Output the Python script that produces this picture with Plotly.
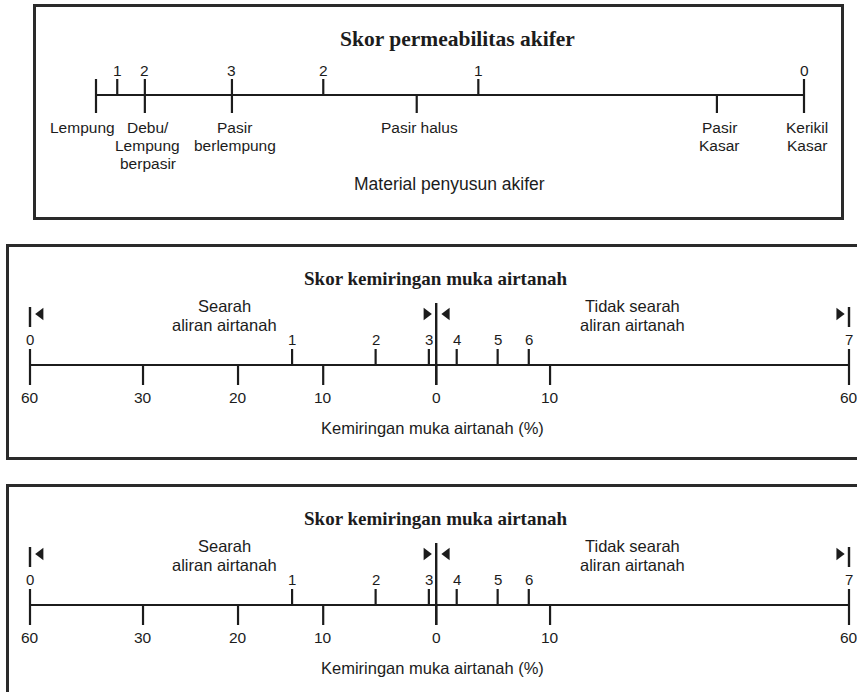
import plotly.graph_objects as go

W, H = 857, 692

# ---------------- Data: permeability panel ----------------
perm_title = "Skor permeabilitas akifer"
perm_axis_title = "Material penyusun akifer"
perm_materials = ["Lempung", "Debu/<br>Lempung<br>berpasir", "Pasir<br>berlempung",
                  "Pasir halus", "Pasir<br>Kasar", "Kerikil<br>Kasar"]
perm_material_pos = [0, 6.9, 19.2, 45.3, 87.7, 100]       # position along scale (0-100)
perm_scores = ["1", "2", "3", "2", "1", "0"]
perm_score_pos = [3.0, 6.9, 19.2, 32.1, 54.0, 100]

# ---------------- Data: slope panels ----------------
slope_title = "Skor kemiringan muka airtanah"
slope_axis_title = "Kemiringan muka airtanah (%)"
slope_pct_labels = ["60", "30", "20", "10", "0", "10", "60"]
slope_pct_pos = [0, 13.8, 25.4, 35.8, 49.6, 63.5, 100]
slope_scores = ["0", "1", "2", "3", "4", "5", "6", "7"]
slope_score_pos = [0, 32.0, 42.2, 48.7, 52.1, 57.1, 60.9, 100]
flow_labels = ["Searah<br>aliran airtanah", "Tidak searah<br>aliran airtanah"]
flow_label_pos = [23.8, 73.6]
flow_boundary_pos = [0, 49.6, 100]
arrow_pos = [1.3, 48.4, 50.9, 98.8]
arrow_dir = ["left", "right", "left", "right"]

# ---------------- Styling ----------------
INK = "#1c1c1c"
BOX = "#2a2a2a"
SANS = "Liberation Sans, Arial, sans-serif"
SERIF = "Liberation Serif, Times New Roman, serif"
LW = 2.2

fig = go.Figure()
annotations = []


def segs(xs, y0, y1):
    X, Y = [], []
    for x in xs:
        X += [x, x, None]
        Y += [y0, y1, None]
    return X, Y


def add_lines(X, Y, n, width=LW):
    fig.add_trace(go.Scatter(x=X, y=Y, mode="lines", xaxis=f"x{n}", yaxis=f"y{n}",
                             line=dict(color=INK, width=width), hoverinfo="skip",
                             showlegend=False))


def ann(n, x, y, text, size, font=SANS, xshift=0, bold=False):
    annotations.append(dict(
        x=x, y=y, xref=f"x{n}", yref=f"y{n}", text=(f"<b>{text}</b>" if bold else text),
        showarrow=False, xanchor="center", yanchor="middle", xshift=xshift,
        font=dict(family=font, size=size, color=INK)))


def multiline(n, x, y_first, text, size, spacing, xshift=0):
    for i, line in enumerate(text.split("<br>")):
        ann(n, x, y_first - i * spacing, line, size, xshift=xshift)


def set_axes(n, bx0, bx1, by0, by1, p0, p100, axis_px, mirror_x, mirror_y, x_side="bottom"):
    xr = [(bx0 - p0) / (p100 - p0) * 100, (bx1 - p0) / (p100 - p0) * 100]
    yr = [axis_px - by1, axis_px - by0]
    sfx = "" if n == 1 else str(n)
    common = dict(showgrid=False, zeroline=False, showticklabels=False, ticks="",
                  showline=True, linecolor=BOX, linewidth=2.5, fixedrange=True)
    fig.layout[f"xaxis{sfx}"] = dict(domain=[max(0, bx0 / W), min(1, bx1 / W)], range=xr,
                                     anchor=f"y{sfx}" if sfx else "y",
                                     mirror=mirror_x, side=x_side, **common)
    fig.layout[f"yaxis{sfx}"] = dict(domain=[max(0, 1 - by1 / H), min(1, 1 - by0 / H)], range=yr,
                                     anchor=f"x{sfx}" if sfx else "x",
                                     mirror=mirror_y, **common)


# ---------------- Panel 1 ----------------
set_axes(1, 36, 841, 7, 217, 96, 804, 95, mirror_x=True, mirror_y=True)
n = 1
ax_lo, ax_hi = min(perm_material_pos), max(perm_material_pos)
add_lines([ax_lo, ax_hi], [0, 0], n)
X, Y = segs(perm_material_pos, 0, -18)
add_lines(X, Y, n)
up = sorted(set(perm_score_pos + [ax_lo, ax_hi]))
X, Y = segs(up, 0, 16)
add_lines(X, Y, n)
for s, p in zip(perm_scores, perm_score_pos):
    ann(n, p, 25, s, 15.5)
perm_xshift = [-14, 3, 3, 3, 3, 3]
for lab, p, xs in zip(perm_materials, perm_material_pos, perm_xshift):
    multiline(n, p, -32, lab, 15.5, 18, xshift=xs)
ann(n, 51.1, 56, perm_title, 21.5, font=SERIF, bold=True)
ann(n, 49.9, -89, perm_axis_title, 17.5)


# ---------------- Slope panels ----------------
def slope_panel(n, box_top, box_bottom, axis_px, bottom_visible):
    if bottom_visible:
        set_axes(n, 9, W, box_top, box_bottom, 30, 849, axis_px, mirror_x=True, mirror_y=False)
    else:
        set_axes(n, 9, W, box_top, box_bottom, 30, 849, axis_px, mirror_x=False, mirror_y=False,
                 x_side="top")
    lo, hi = min(slope_pct_pos), max(slope_pct_pos)
    add_lines([lo, hi], [0, 0], n)
    X, Y = segs(slope_pct_pos, 0, -20)
    add_lines(X, Y, n)
    X, Y = segs(slope_score_pos, 0, 16)
    add_lines(X, Y, n)
    # region boundary bars
    for b in flow_boundary_pos:
        if b in (lo, hi):
            add_lines([b, b], [38, 58], n, width=2.4)
        else:
            add_lines([b, b], [-20, 62], n, width=2.4)
    # arrows
    for d in ("left", "right"):
        xs = [p for p, dd in zip(arrow_pos, arrow_dir) if dd == d]
        fig.add_trace(go.Scatter(x=xs, y=[51] * len(xs), mode="markers",
                                 xaxis=f"x{n}", yaxis=f"y{n}",
                                 marker=dict(symbol=f"triangle-{d}", size=11, color=INK),
                                 hoverinfo="skip", showlegend=False))
    for s, p in zip(slope_scores, slope_score_pos):
        ann(n, p, 26, s, 15)
    for lab_s, p in zip(slope_pct_labels, slope_pct_pos):
        ann(n, p, -32, lab_s, 15.5)
    for lab, p in zip(flow_labels, flow_label_pos):
        multiline(n, p, 59, lab, 16.5, 19)
    ann(n, 49.5, 87, slope_title, 19, font=SERIF, bold=True)
    ann(n, 49.1, -63, slope_axis_title, 16.5)


slope_panel(2, 247, 457, 365, True)
slope_panel(3, 487, H, 605, False)

fig.update_layout(width=W, height=H, margin=dict(l=0, r=0, t=0, b=0),
                  paper_bgcolor="white", plot_bgcolor="white",
                  annotations=annotations, showlegend=False)

fig.write_html("out.html", config={"displayModeBar": False},
               post_script="document.body.style.margin='0';document.body.style.overflow='hidden';")
